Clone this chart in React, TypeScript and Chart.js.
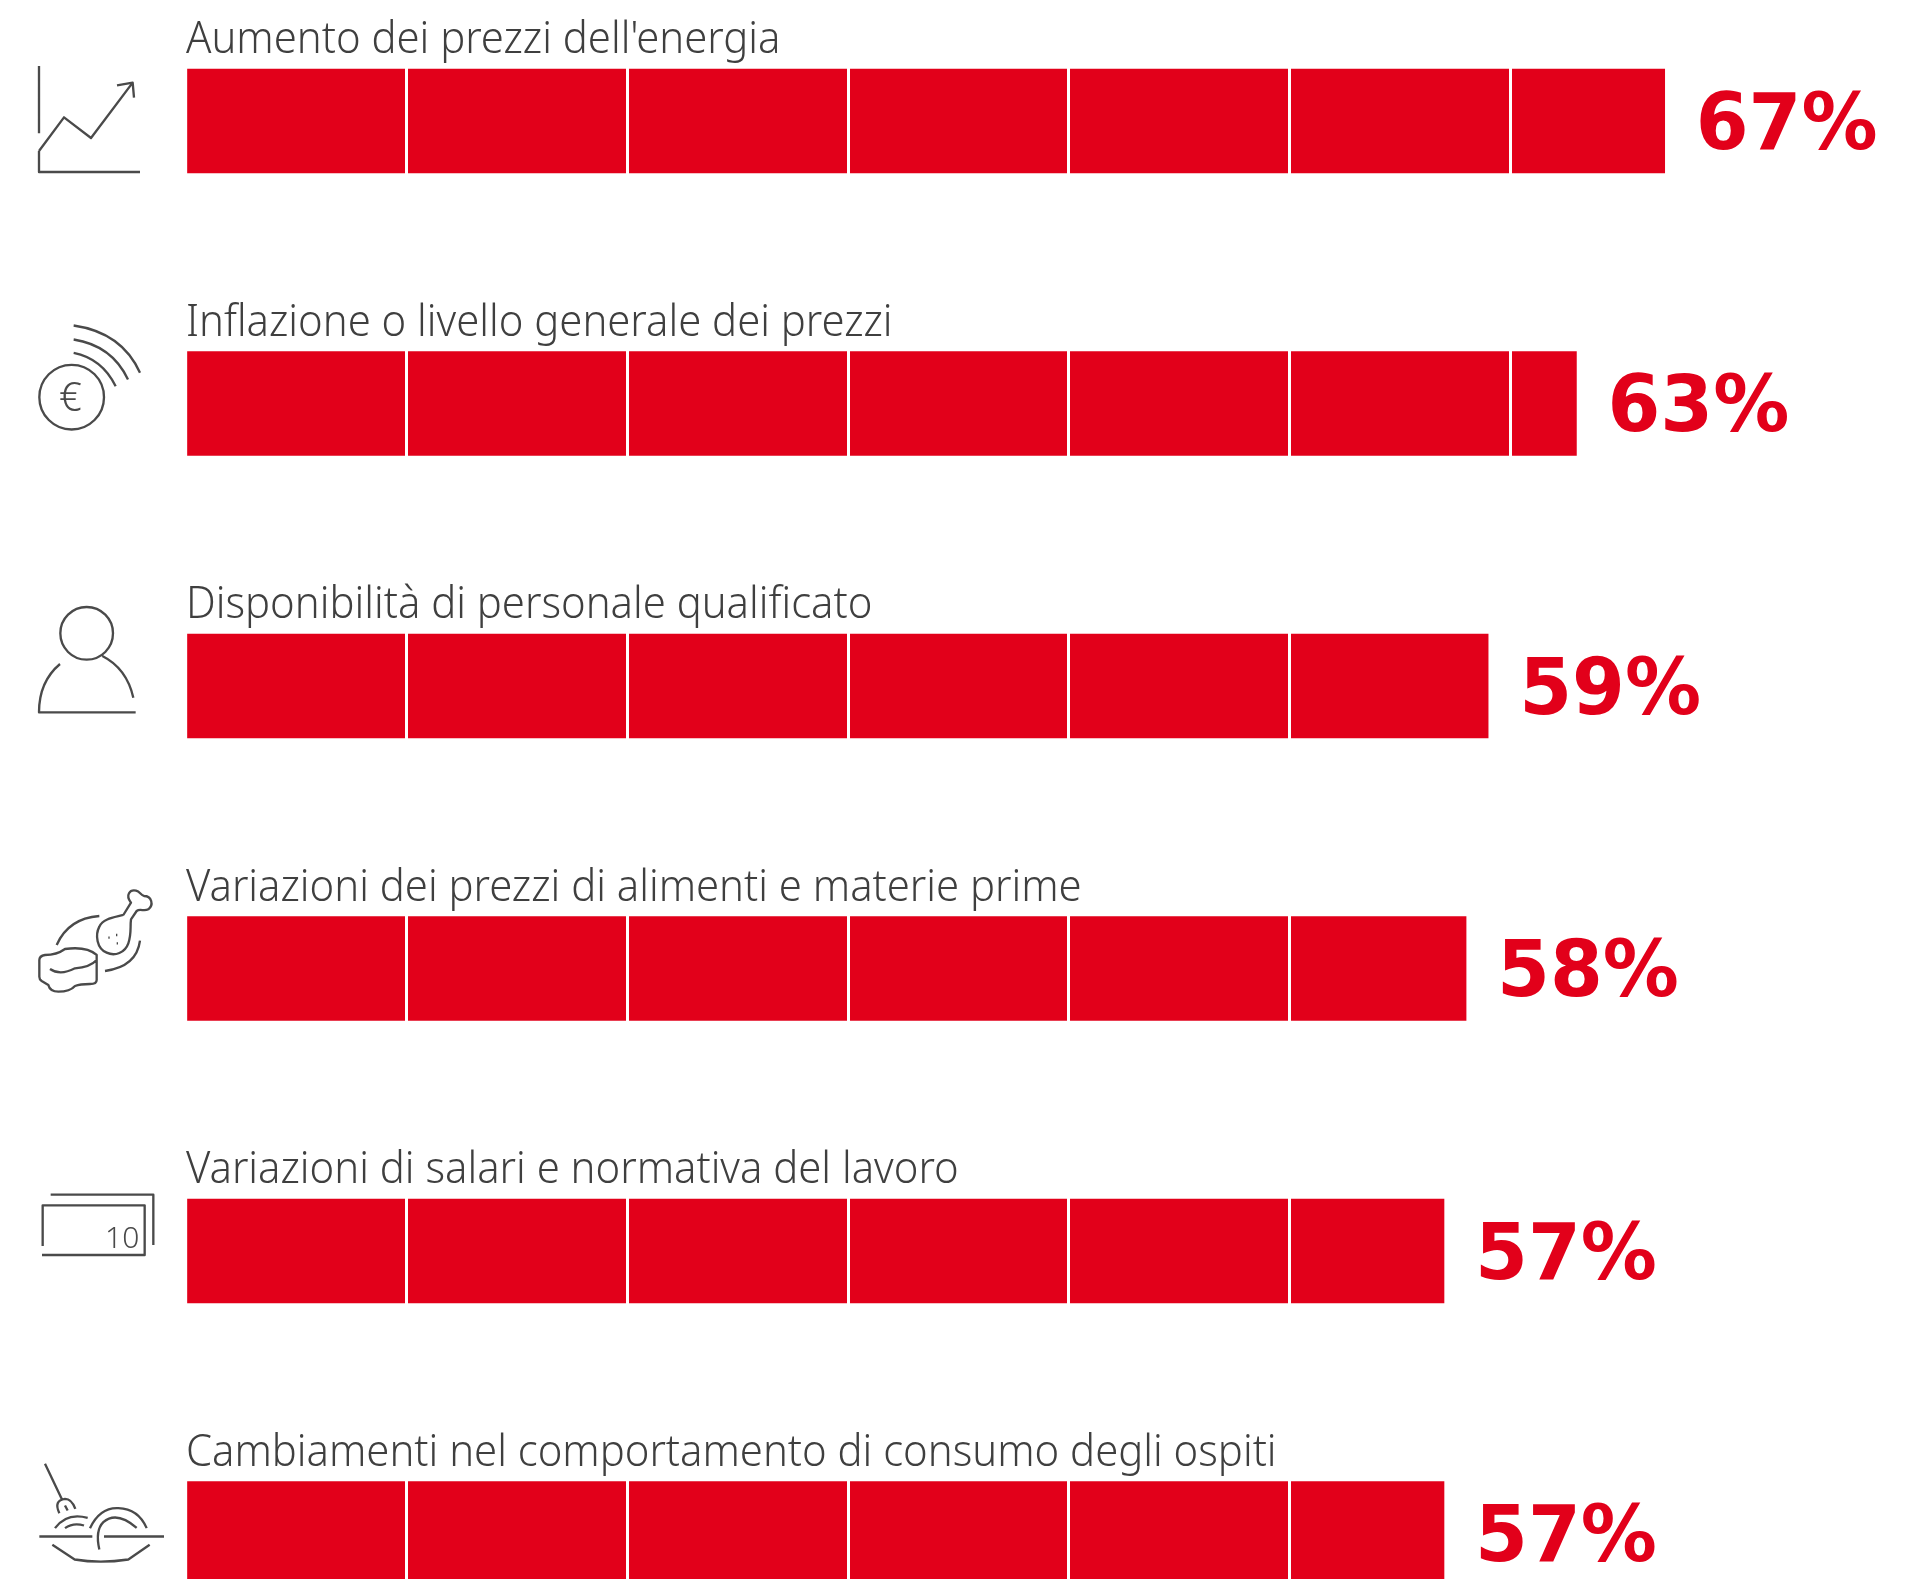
import React, { useEffect, useRef } from "react";
import { Chart, registerables } from "chart.js";

Chart.register(...registerables);

// Survey results: share of respondents naming each challenge, in percent.
const categories = [
  "Aumento dei prezzi dell'energia",
  "Inflazione o livello generale dei prezzi",
  "Disponibilità di personale qualificato",
  "Variazioni dei prezzi di alimenti e materie prime",
  "Variazioni di salari e normativa del lavoro",
  "Cambiamenti nel comportamento di consumo degli ospiti",
];
const values = [67, 63, 59, 58, 57, 57];
const rowIndex = [0, 1, 2, 3, 4, 5];

const RED = "#e2001a";
const INK = "#3f3f3f";
const ICON_INK = "#4a4a4a";

// Line icons, in units of a third of a pixel. `anchor` is the height in those
// units that lines up with the centre of the row's bar.
type Icon = { anchor: number; path: string; text?: { s: string; x: number; y: number; size: number; align: CanvasTextAlign } };
const icons: Icon[] = [
  {
    anchor: 363,
    path: "M117 198V400 M117 453L192 352L273 414L398 248 M351 256L398 248L402 293 M117 453V516H420",
  },
  {
    anchor: 1209,
    path: "M312 1190A97 97 0 1 1 118 1190A97 97 0 1 1 312 1190 M221 975Q366 996 420 1117 M221 1017Q336 1035 384 1137 M221 1057Q306 1074 347 1157",
    text: { s: "€", x: 211, y: 1233, size: 40, align: "center" },
  },
  {
    anchor: 318,
    path: "M339 160A79 79 0 1 1 181 160A79 79 0 1 1 339 160 M180 252Q117 305 117 397H407 M307 228Q380 265 400 353",
  },
  {
    anchor: 1165.5,
    path:
      "M370 1005L393 968C375 945 390 928 408 932C420 935 422 945 432 948C455 948 462 975 445 988C432 995 420 985 410 993L393 1018C390 1040 395 1060 385 1090C375 1118 345 1130 320 1118C290 1105 285 1065 298 1040C310 1015 345 1012 370 1005 " +
      "M325 1073h4 M348 1065h4 M350 1090h4 " +
      "M170 1095Q205 1015 298 1008 M315 1173Q410 1160 420 1082 " +
      "M118 1140Q118 1128 135 1125Q170 1125 195 1107Q260 1098 290 1125V1200Q290 1212 270 1212Q240 1212 225 1218Q210 1235 175 1235Q150 1235 145 1215L125 1203Q118 1198 118 1190Z " +
      "M150 1167Q180 1188 225 1165Q270 1162 290 1140",
  },
  {
    anchor: 273,
    path: "M152 104H460V255 M128 258V136H434V285H126",
    text: { s: "10", x: 418, y: 265, size: 30, align: "right" },
  },
  {
    anchor: 1119,
    path:
      "M135 910L186 1017 M178 1058Q160 1020 195 1015Q215 1015 226 1045 M195 1035L203 1050 " +
      "M165 1103Q200 1055 263 1072 M195 1103Q220 1085 252 1095 " +
      "M270 1103Q300 1040 355 1043Q415 1045 440 1103 M298 1167Q285 1110 310 1085Q350 1050 410 1102 " +
      "M118 1128H277 M312 1128H492 M157 1153L224 1197Q300 1210 385 1197L449 1153",
  },
];

const rowLabels = {
  id: "rowLabels",
  afterDraw(chart: any) {
    const { ctx } = chart;
    const bars = chart.getDatasetMeta(0).data;
    bars.forEach((bar: any, i: number) => {
      const top = bar.y - bar.height / 2;

      // Category caption above the bar.
      ctx.save();
      ctx.translate(186, top - 15.5);
      ctx.scale(0.95, 1);
      ctx.font = '300 44px "Noto Sans"';
      ctx.fillStyle = INK;
      ctx.textAlign = "left";
      ctx.textBaseline = "alphabetic";
      ctx.fillText(categories[i], 0, 0);
      ctx.restore();

      // Percentage at the end of the bar.
      ctx.save();
      ctx.translate(bar.x + 31, bar.y + 28);
      ctx.scale(1, 1.03);
      ctx.font = 'bold 76px "DejaVu Sans"';
      ctx.fillStyle = RED;
      ctx.textAlign = "left";
      ctx.textBaseline = "alphabetic";
      ctx.fillText(`${values[i]}%`, 0, 0);
      ctx.restore();

      // Row icon on the left.
      const icon = icons[i];
      ctx.save();
      ctx.translate(0, bar.y);
      ctx.scale(1 / 3, 1 / 3);
      ctx.translate(0, -icon.anchor);
      ctx.strokeStyle = ICON_INK;
      ctx.lineWidth = 7;
      ctx.lineJoin = "round";
      ctx.stroke(new Path2D(icon.path));
      if (icon.text) {
        ctx.font = `300 ${icon.text.size * 3}px "Noto Sans"`;
        ctx.fillStyle = ICON_INK;
        ctx.textAlign = icon.text.align;
        ctx.fillText(icon.text.s, icon.text.x, icon.text.y);
      }
      ctx.restore();
    });
  },
};

export default function App() {
  const ref = useRef<HTMLCanvasElement>(null);

  useEffect(() => {
    if (!ref.current) return;
    const chart = new Chart(ref.current, {
      type: "bar",
      data: {
        datasets: [
          {
            data: values.map((v, i) => ({ x: v, y: rowIndex[i] })),
            backgroundColor: RED,
            barThickness: 104,
            borderWidth: 0,
          },
        ],
      },
      options: {
        indexAxis: "y",
        responsive: false,
        animation: false,
        events: [],
        layout: { padding: { left: 186 } },
        plugins: { legend: { display: false }, title: { display: false }, tooltip: { enabled: false } },
        scales: {
          x: {
            type: "linear",
            min: 0,
            max: 78.16,
            border: { display: false },
            ticks: { display: false, stepSize: 10, includeBounds: false },
            grid: {
              z: 1,
              drawTicks: false,
              lineWidth: 3,
              color: (c: any) => (c.tick && c.tick.value === 0 ? "rgba(255,255,255,0)" : "#ffffff"),
            },
          },
          y: { type: "linear", display: false, reverse: true, offset: false, min: -0.4283, max: 5.1611 },
        },
      },
      plugins: [rowLabels],
    } as any);
    return () => chart.destroy();
  }, []);

  return (
    <div style={{ position: "absolute", left: 0, top: 0, width: 1911, height: 1579, overflow: "hidden", background: "#fff" }}>
      <canvas ref={ref} width={1911} height={1579} style={{ display: "block" }} />
    </div>
  );
}
